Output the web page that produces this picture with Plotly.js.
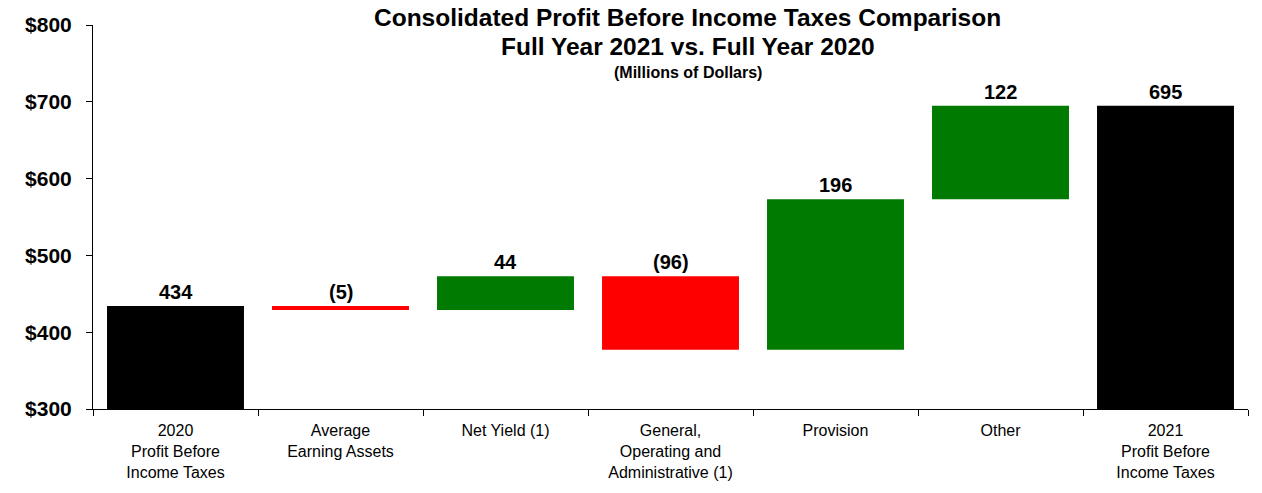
<!DOCTYPE html>
<html><head><meta charset="utf-8">
<script src="https://cdn.plot.ly/plotly-3.0.1.min.js"></script>
<style>html,body{margin:0;padding:0;background:#fff}#chart{width:1262px;height:493px}</style>
</head><body><div id="chart"></div>
<script>
const categories = ["2020<br>Profit Before<br>Income Taxes", "Average<br>Earning Assets", "Net Yield (1)", "General,<br>Operating and<br>Administrative (1)", "Provision", "Other", "2021<br>Profit Before<br>Income Taxes"];
const values = [434, -5, 44, -96, 196, 122, 695];
const measures = ["absolute", "relative", "relative", "relative", "relative", "relative", "total"];
const labels = ["434", "(5)", "44", "(96)", "196", "122", "695"];
const titleLines = ["Consolidated Profit Before Income Taxes Comparison", "Full Year 2021 vs. Full Year 2020"];
const subtitle = "(Millions of Dollars)";

const F = "Liberation Sans, Arial, sans-serif";
const bases = [], heights = [], colors = [], tops = [];
let run = 0;
values.forEach((v, i) => {
  if (measures[i] === "absolute" || measures[i] === "total") {
    bases.push(0); heights.push(v); run = v; colors.push("#000000"); tops.push(v);
  } else {
    const start = run; run += v;
    bases.push(Math.min(start, run)); heights.push(Math.abs(v));
    colors.push(v >= 0 ? "#007a00" : "#ff0000"); tops.push(Math.max(start, run));
  }
});

const trace = {type: "bar", x: categories, y: heights, base: bases, marker: {color: colors, line: {width: 0}}, width: 0.83, hoverinfo: "skip"};

const annotations = categories.map((c, i) => ({
  x: c, y: tops[i], xref: "x", yref: "y", text: labels[i], showarrow: false,
  yanchor: "bottom", yshift: 1, font: {family: F, size: 20, color: "#000", weight: "bold"}
}));
// pixel centres -> paper coords (plot area top=25, height=384)
const py = p => (409 - p) / 384;
annotations.push({xref: "paper", yref: "paper", x: 0.515, y: py(18), yanchor: "middle", showarrow: false,
  text: titleLines[0], font: {family: F, size: 24.5, color: "#000", weight: "bold"}});
annotations.push({xref: "paper", yref: "paper", x: 0.515, y: py(47), yanchor: "middle", showarrow: false,
  text: titleLines[1], font: {family: F, size: 24.5, color: "#000", weight: "bold"}});
annotations.push({xref: "paper", yref: "paper", x: 0.515, y: py(72), yanchor: "middle", showarrow: false,
  text: subtitle, font: {family: F, size: 16, color: "#000", weight: "bold"}});

const layout = {
  width: 1262, height: 493,
  margin: {l: 93, r: 14, t: 25, b: 84},
  paper_bgcolor: "#fff", plot_bgcolor: "#fff",
  showlegend: false,
  xaxis: {type: "category", showline: true, linecolor: "#000", linewidth: 1, ticks: "outside", tickson: "boundaries",
    ticklen: 6, tickcolor: "#000", showgrid: false, ticklabelstandoff: 7,
    tickfont: {family: F, size: 16, color: "#000"}, fixedrange: true},
  yaxis: {range: [300, 800], dtick: 100, tickprefix: "$", showline: true, linecolor: "#000", linewidth: 1,
    ticks: "outside", ticklen: 6, tickcolor: "#000", showgrid: false, zeroline: false, ticklabelstandoff: 10,
    tickfont: {family: F, size: 21, color: "#000", weight: "bold"}, fixedrange: true},
  annotations: annotations
};
Plotly.newPlot("chart", [trace], layout, {displayModeBar: false, staticPlot: true});
</script></body></html>
